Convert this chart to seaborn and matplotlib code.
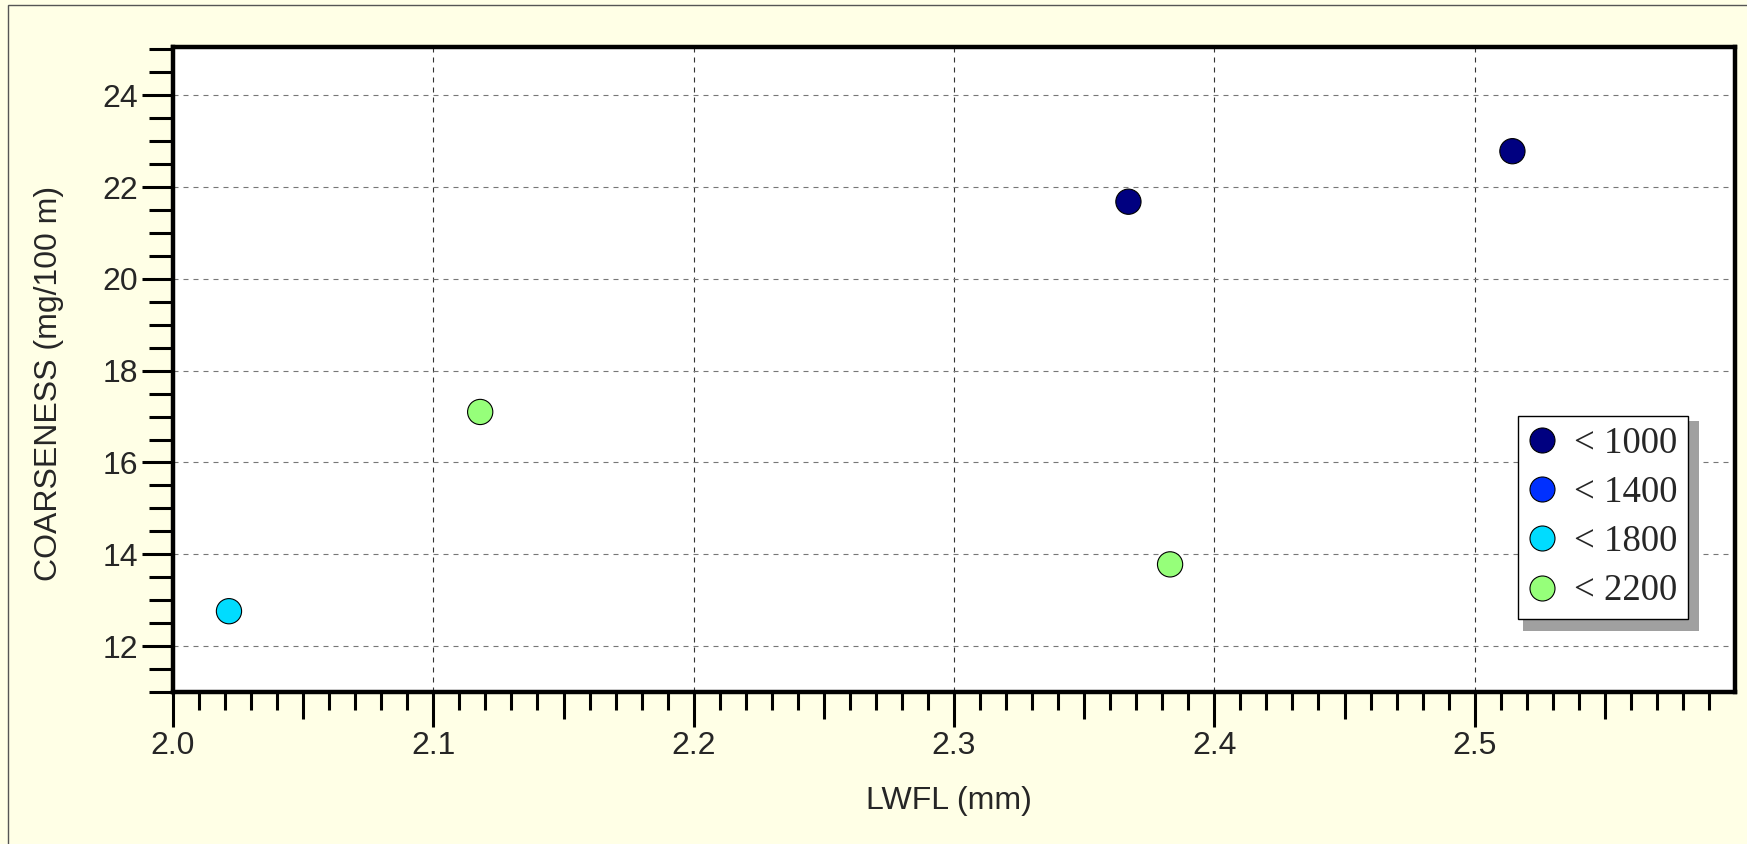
import numpy as np
import pandas as pd
import matplotlib
matplotlib.use("Agg")
import matplotlib.pyplot as plt
from matplotlib.lines import Line2D
from matplotlib.patches import Rectangle
from matplotlib.transforms import IdentityTransform
import seaborn as sns

# Data
lwfl = [2.367, 2.5145, 2.118, 2.383, 2.0215]
coarseness = [21.68, 22.78, 17.10, 13.78, 12.76]
group = ["< 1000", "< 1000", "< 2200", "< 2200", "< 1800"]

levels = ["< 1000", "< 1400", "< 1800", "< 2200"]
level_colors = ["#000080", "#0030FF", "#00DCFF", "#96FF7A"]

x_labels = ["2.0", "2.1", "2.2", "2.3", "2.4", "2.5"]
y_labels = ["12", "14", "16", "18", "20", "22", "24"]

df = pd.DataFrame({"LWFL": lwfl, "COARSENESS": coarseness, "group": group})
palette = dict(zip(levels, level_colors))

sns.set_style("white")
plt.rcParams["font.family"] = ["Liberation Sans", "DejaVu Sans"]
plt.rcParams["lines.scale_dashes"] = False

W, H, DPI = 1747, 844, 100
fig = plt.figure(figsize=(W / DPI, H / DPI), dpi=DPI, facecolor="#FFFFE6")
ax = fig.add_axes([173 / W, 1 - 692 / H, (1735 - 173) / W, (692 - 47) / H])
ax.set_facecolor("white")

sns.scatterplot(data=df, x="LWFL", y="COARSENESS", hue="group", hue_order=levels,
                palette=palette, s=330, edgecolor="black", linewidth=0.8,
                legend=False, ax=ax, zorder=3)

ax.set_xlim(2.0, 2.6)
ax.set_ylim(11, 25.05)

# x ticks: long at 0.1, medium at 0.05, short at 0.01
x_major = [float(v) for v in x_labels]
hundredths = np.arange(200, 260)
ax.set_xticks(x_major)
ax.set_xticklabels(x_labels)
ax.set_xticks(hundredths[hundredths % 5 != 0] / 100, minor=True)
ax.tick_params(axis="x", which="major", direction="out", length=25.2, width=2.2,
               labelsize=23, pad=3, color="black")
ax.tick_params(axis="x", which="minor", direction="out", length=13, width=2.2, color="black")

mid = ax.secondary_xaxis("bottom")
mid.set_xticks(hundredths[(hundredths % 5 == 0) & (hundredths % 10 != 0)] / 100)
mid.tick_params(axis="x", direction="out", length=19.4, width=2.2, color="black",
                labelbottom=False)
mid.spines["bottom"].set_visible(False)

ax.set_yticks([float(v) for v in y_labels])
ax.set_yticklabels(y_labels)
ax.set_yticks(np.arange(11, 25.01, 0.5), minor=True)
ax.tick_params(axis="y", which="major", direction="out", length=22.3, width=2.2,
               labelsize=23, pad=3, color="black")
ax.tick_params(axis="y", which="minor", direction="out", length=17.3, width=2.2, color="black")
ax.tick_params(left=True, bottom=True, which="both")

ax.xaxis.grid(True, which="major", color="#333333", linestyle=(0, (3.6, 3.6)), linewidth=0.8)
ax.yaxis.grid(True, which="major", color="#777777", linestyle=(0, (3.6, 3.6)), linewidth=0.8)

for sp in ax.spines.values():
    sp.set_visible(True)
    sp.set_color("black")
    sp.set_linewidth(3.2)
    sp.set_zorder(4)

ax.set_xlabel("LWFL (mm)", fontsize=23)
ax.set_ylabel("COARSENESS (mg/100 m)", fontsize=23)
ax.xaxis.set_label_coords(0.497, -0.146)
ax.yaxis.set_label_coords(-0.07, 0.478)

handles = [Line2D([], [], marker="o", linestyle="none", markersize=18,
                  markerfacecolor=c, markeredgecolor="black", markeredgewidth=0.8)
           for c in level_colors]
leg = ax.legend(handles, levels, loc="upper left", bbox_to_anchor=(1518 / W, 1 - 416 / H),
                bbox_transform=fig.transFigure, borderaxespad=0, fancybox=False,
                framealpha=1, edgecolor="black", prop={"family": "Liberation Serif", "size": 26.5},
                labelspacing=0.4, borderpad=0.28, handlelength=0.75, handletextpad=0.5)
leg.get_frame().set_linewidth(1)

# legend drop shadow
fig.canvas.draw()
bb = leg.get_frame().get_window_extent()
shadow = Rectangle((bb.x0 + 5, bb.y0 - 12), bb.width + 6, bb.height + 7,
                   transform=IdentityTransform(), facecolor="#A0A0A0", edgecolor="none",
                   zorder=4.9, clip_on=False)
ax.add_artist(shadow)

# thin border around the figure
fig.add_artist(Rectangle((8 / W, -0.1), 1.2, 1.1 - 5 / H, transform=fig.transFigure,
                         fill=False, edgecolor="#555555", linewidth=1))

fig.savefig("out.png", dpi=DPI, facecolor=fig.get_facecolor())
